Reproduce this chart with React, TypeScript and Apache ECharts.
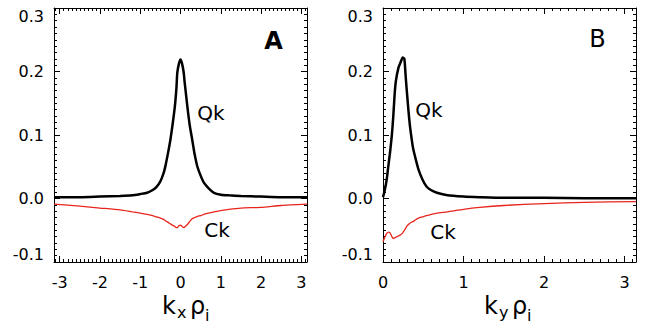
import React, { useEffect, useRef } from 'react';
import * as echarts from 'echarts';

// Panel A: k_x rho_i
const kxA = [-3.1416, -2.5, -2.0, -1.5, -1.2, -1.0, -0.83, -0.7, -0.6, -0.5, -0.42, -0.375, -0.3, -0.25, -0.2, -0.14, -0.1, -0.08, -0.04, 0, 0.04, 0.08, 0.1, 0.17, 0.23, 0.29, 0.35, 0.42, 0.5, 0.58, 0.7, 0.83, 1.0, 1.2, 1.5, 2.0, 2.5, 3.1416];
const qkA = [0.002, 0.002, 0.003, 0.004, 0.005, 0.007, 0.009, 0.013, 0.018, 0.027, 0.04, 0.051, 0.075, 0.093, 0.115, 0.145, 0.175, 0.198, 0.212, 0.219, 0.212, 0.198, 0.185, 0.145, 0.115, 0.093, 0.07, 0.05, 0.036, 0.025, 0.016, 0.009, 0.006, 0.005, 0.004, 0.003, 0.002, 0.002];
const ckA = [-0.009, -0.012, -0.015, -0.018, -0.021, -0.023, -0.025, -0.027, -0.029, -0.031, -0.033, -0.035, -0.038, -0.04, -0.042, -0.044, -0.046, -0.046, -0.043, -0.042, -0.044, -0.046, -0.045, -0.041, -0.036, -0.032, -0.03, -0.028, -0.027, -0.025, -0.023, -0.021, -0.019, -0.017, -0.015, -0.014, -0.011, -0.009];

// Panel B: k_y rho_i
const kyB = [0, 0.02, 0.046, 0.07, 0.087, 0.11, 0.128, 0.145, 0.16, 0.19, 0.22, 0.245, 0.265, 0.28, 0.294, 0.315, 0.335, 0.36, 0.377, 0.41, 0.44, 0.49, 0.54, 0.6, 0.67, 0.8, 1.0, 1.2, 1.5, 2.0, 2.5, 3.1416];
const qkB = [0.002, 0.012, 0.03, 0.055, 0.072, 0.1, 0.13, 0.165, 0.185, 0.205, 0.215, 0.222, 0.22, 0.195, 0.172, 0.14, 0.114, 0.09, 0.077, 0.06, 0.046, 0.03, 0.019, 0.013, 0.009, 0.005, 0.003, 0.002, 0.001, 0.001, 0.0005, 0.0005];
const ckB = [-0.068, -0.062, -0.055, -0.053, -0.054, -0.06, -0.063, -0.062, -0.061, -0.059, -0.057, -0.054, -0.05, -0.047, -0.044, -0.041, -0.039, -0.037, -0.036, -0.033, -0.031, -0.029, -0.027, -0.025, -0.023, -0.021, -0.017, -0.014, -0.011, -0.008, -0.006, -0.005];

const xMajorA = [-3, -2, -1, 0, 1, 2, 3];
const xMajorB = [0, 1, 2, 3];
const yMin = -0.1;
const yMax = 0.3;
const yStep = 0.1;

const FONT = 'DejaVu Sans';

function tenths(from: number, to: number) {
  const out: number[] = [];
  for (let i = from; i <= to; i++) out.push(i / 10);
  return out;
}

function zip(xs: number[], ys: number[]) {
  return xs.map((x, i) => [x, ys[i]]);
}

function xAxes(gridIndex: number, min: number, max: number, majors: number[], minors: number[]) {
  const base = {
    type: 'value', gridIndex, min, max,
    splitLine: { show: false },
  };
  const line = { show: true, onZero: false, lineStyle: { color: '#000', width: 1 } };
  const noLine = { show: false, onZero: false };
  const tickStyle = { color: '#000', width: 1 };
  return [
    {
      ...base, position: 'bottom', axisLine: line,
      axisTick: { show: true, inside: true, length: 6, customValues: majors, lineStyle: tickStyle },
      axisLabel: { show: true, customValues: majors, margin: 12, fontSize: 16, color: '#000', fontFamily: FONT },
    },
    {
      ...base, position: 'bottom', axisLine: noLine,
      axisTick: { show: true, inside: true, length: 3, customValues: minors, lineStyle: tickStyle },
      axisLabel: { show: false },
    },
    {
      ...base, position: 'top', axisLine: line,
      axisTick: { show: true, inside: true, length: 6, customValues: majors, lineStyle: tickStyle },
      axisLabel: { show: false },
    },
    {
      ...base, position: 'top', axisLine: noLine,
      axisTick: { show: true, inside: true, length: 3, customValues: minors, lineStyle: tickStyle },
      axisLabel: { show: false },
    },
  ];
}

function yAxes(gridIndex: number) {
  const common = {
    type: 'value', gridIndex, min: yMin, max: yMax, interval: yStep,
    splitLine: { show: false },
    axisLine: { show: true, onZero: false, lineStyle: { color: '#000', width: 1 } },
    axisTick: { show: true, inside: true, length: 6, lineStyle: { color: '#000', width: 1 } },
    minorTick: { show: true, splitNumber: 10, length: 3, lineStyle: { color: '#000', width: 1 } },
  };
  return [
    {
      ...common, position: 'left',
      axisLabel: {
        show: true, margin: 10, fontSize: 16, color: '#000', fontFamily: FONT,
        formatter: (v: number) => v.toFixed(1),
        verticalAlignMaxLabel: 'top', verticalAlignMinLabel: 'bottom',
      },
    },
    { ...common, position: 'right', axisLabel: { show: false } },
  ];
}

function txt(x: number, y: number, text: string, size: number, opts: any = {}) {
  return {
    type: 'text', x, y, silent: true,
    style: {
      text, fontSize: size, fontFamily: FONT, fill: '#000',
      align: opts.align || 'center', verticalAlign: 'middle', fontWeight: opts.bold ? 'bold' : 'normal',
    },
  };
}

export default function App() {
  const ref = useRef<HTMLDivElement>(null);
  useEffect(() => {
    if (!ref.current) return;
    const chart = echarts.init(ref.current, undefined, { renderer: 'svg' });
    const PI = Math.PI;
    const option: any = {
      animation: false,
      backgroundColor: '#fff',
      grid: [
        { left: 54, top: 8, width: 253, height: 254 },
        { left: 383, top: 8, width: 253, height: 254 },
      ],
      xAxis: [
        ...xAxes(0, -PI, PI, xMajorA, tenths(-31, 31)),
        ...xAxes(1, 0, PI, xMajorB, tenths(1, 31)),
      ],
      yAxis: [...yAxes(0), ...yAxes(1)],
      series: [
        {
          type: 'line', xAxisIndex: 0, yAxisIndex: 0, data: zip(kxA, ckA), showSymbol: false,
          smooth: 0.2, lineStyle: { color: '#e8251c', width: 1.3 }, z: 3,
        },
        {
          type: 'line', xAxisIndex: 0, yAxisIndex: 0, data: zip(kxA, qkA), showSymbol: false,
          smooth: 0.2, lineStyle: { color: '#000', width: 2.5 }, z: 4,
        },
        {
          type: 'line', xAxisIndex: 4, yAxisIndex: 2, data: zip(kyB, ckB), showSymbol: false,
          smooth: 0.2, lineStyle: { color: '#e8251c', width: 1.3 }, z: 3,
        },
        {
          type: 'line', xAxisIndex: 4, yAxisIndex: 2, data: zip(kyB, qkB), showSymbol: false,
          smooth: 0.2, lineStyle: { color: '#000', width: 2.5 }, z: 4,
        },
      ],
      graphic: [
        txt(211, 113, 'Qk', 20),
        txt(217, 230, 'Ck', 20),
        txt(273.5, 41, 'A', 24, { bold: true }),
        txt(429, 110, 'Qk', 20),
        txt(443, 232, 'Ck', 20),
        txt(597.5, 39, 'B', 24),
        txt(162, 306, 'k', 24, { align: 'left' }),
        txt(177, 312, 'x', 16, { align: 'left' }),
        txt(190, 306, 'ρ', 24, { align: 'left' }),
        txt(205, 315, 'i', 16, { align: 'left' }),
        txt(484, 306, 'k', 24, { align: 'left' }),
        txt(499, 312, 'y', 16, { align: 'left' }),
        txt(512, 306, 'ρ', 24, { align: 'left' }),
        txt(527, 315, 'i', 16, { align: 'left' }),
      ],
    };
    chart.setOption(option);
    return () => chart.dispose();
  }, []);
  return (
    <div
      ref={ref}
      style={{ position: 'fixed', left: 0, top: 0, width: 651, height: 324, background: '#fff' }}
    />
  );
}
